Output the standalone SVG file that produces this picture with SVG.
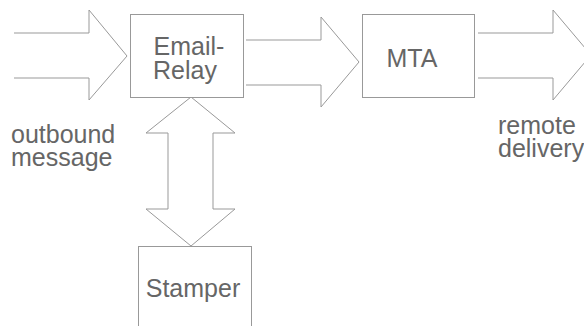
<svg xmlns="http://www.w3.org/2000/svg" width="584" height="326" viewBox="0 0 584 326">
<style>
.box{fill:#fff;stroke:#999;stroke-width:1}
.arr{fill:none;stroke:#999;stroke-width:1;stroke-linejoin:miter}
.t{font-family:"Liberation Sans",Arial,sans-serif;font-size:25px;fill:#666}
.c{text-anchor:middle}
</style>
<rect width="584" height="326" fill="#fff"/>
<g id="connectors">
<polyline class="arr" points="14,33 89,33 89,10 127,56 89,100 89,78 14,78"/>
<polyline class="arr" points="246,40 321,40 321,17 359,62 321,107 321,85 246,85"/>
<polyline class="arr" points="478,33 553,33 553,10 591,55 553,100 553,78 478,78"/>
<polygon class="arr" points="191,97 235,133 213,133 213,209 235,209 191,246 146,209 168,209 168,133 146,133"/>
</g>
<g id="email-relay">
<rect class="box" x="130.5" y="14.5" width="113" height="83"/>
<text class="t c" x="189" y="55">Email-</text>
<text class="t c" x="185" y="79">Relay</text>
</g>
<g id="mta">
<rect class="box" x="362.5" y="14.5" width="112" height="83"/>
<text class="t c" x="412" y="67">MTA</text>
</g>
<g id="stamper">
<rect class="box" x="138.5" y="246.5" width="113" height="90"/>
<text class="t c" x="193" y="297">Stamper</text>
</g>
<g id="outbound-label">
<text class="t" x="11" y="143">outbound</text>
<text class="t" x="11" y="166">message</text>
</g>
<g id="remote-label">
<text class="t" x="498" y="134">remote</text>
<text class="t" x="498" y="157">delivery</text>
</g>
</svg>
